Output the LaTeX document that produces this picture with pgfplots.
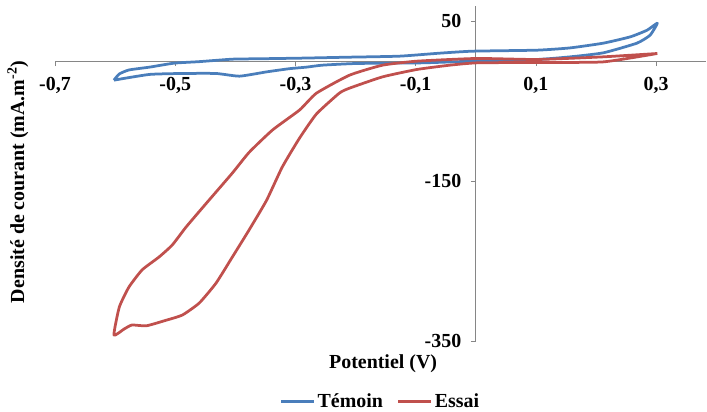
\documentclass[border=0pt]{standalone}
\usepackage{fontspec}
\setmainfont{Liberation Serif}
\usepackage{pgfplots}
\pgfplotsset{compat=1.18}
\definecolor{temoin}{RGB}{74,126,187}
\definecolor{essai}{RGB}{192,80,77}
\definecolor{axgray}{RGB}{134,134,134}
\begin{document}
\begin{tikzpicture}
\path[use as bounding box] (0,0) rectangle (707bp,412bp);
\begin{axis}[
  at={(55bp,71bp)}, anchor=south west,
  scale only axis, width=651bp, height=335bp,
  xmin=-0.7, xmax=0.383, ymin=-350, ymax=69,
  axis lines=middle,
  axis line style={-, draw=axgray, line width=0.75bp},
  tick align=outside, major tick length=5bp,
  tick style={draw=axgray, line width=0.75bp},
  xtick={-0.7,-0.5,-0.3,-0.1,0.1,0.3},
  xticklabels={{-0,7},{-0,5},{-0,3},{-0,1},{0,1},{0,3}},
  ytick={-350,-150,50},
  yticklabels={-350,-150,50},
  minor tick num=0,
  ticklabel style={font=\fontsize{20}{23}\selectfont\bfseries},
  xticklabel style={yshift=-8bp},
  yticklabel style={xshift=-6bp},
  every axis x label/.style={at={(rel axis cs:0.504,-0.068)}, anchor=center, font=\fontsize{20}{23}\selectfont\bfseries},
  every axis y label/.style={at={(rel axis cs:-0.057,0.475)}, anchor=center, rotate=90, font=\fontsize{20}{23}\selectfont\bfseries},
  xlabel={Potentiel (V)},
  ylabel={Densité de courant (mA.m\textsuperscript{-2})},
  legend style={at={(rel axis cs:0.5,-0.18)}, anchor=center, draw=none, fill=none,
    legend columns=2, font=\fontsize{20}{23}\selectfont\bfseries,
    inner sep=0bp,
    /tikz/every even column/.append style={column sep=12bp},
    nodes={inner xsep=2bp, inner ysep=1bp}},
  legend image code/.code={\draw[#1] (0bp,0bp) -- (33bp,0bp);},
]
\addplot[temoin, line width=2.75bp, line join=round, smooth, tension=0.3] coordinates {
(-0.602,-23.75) (-0.593,-16) (-0.577,-11) (-0.543,-7.5) (-0.502,-2.5)
(-0.46,-0.6) (-0.405,2.5) (-0.36,3) (-0.293,3.75) (-0.21,5) (-0.127,6.25)
(-0.06,10) (-0.005,12.5) (0.102,13.75) (0.157,16.6) (0.212,22.5)
(0.257,30.4) (0.285,38.75) (0.302,47.5)
(0.29,32.5) (0.268,22.5) (0.212,10.4) (0.157,5.4) (0.102,2.1)
(-0.005,0) (-0.088,-2.1) (-0.198,-2.9) (-0.255,-5) (-0.282,-7.5)
(-0.31,-9.4) (-0.348,-13.4) (-0.393,-18.75) (-0.432,-15.4)
(-0.488,-15.4) (-0.543,-16.6) (-0.602,-23.75)
};
\addlegendentry{Témoin}
\addplot[essai, line width=2.75bp, line join=round, smooth, tension=0.3] coordinates {
(0.302,9.6) (0.212,-0.9) (0.102,-1.6) (0.002,-2.1) (-0.043,-5)
(-0.098,-10.4) (-0.155,-19.6) (-0.21,-33.75) (-0.227,-40) (-0.265,-66)
(-0.293,-96) (-0.322,-132.5) (-0.348,-174) (-0.377,-211) (-0.405,-245)
(-0.432,-277.5) (-0.46,-302.5) (-0.488,-317.5) (-0.515,-324)
(-0.548,-331) (-0.572,-330) (-0.585,-335) (-0.602,-342.5)
(-0.593,-307.5) (-0.577,-282.5) (-0.555,-261) (-0.527,-245)
(-0.505,-230) (-0.482,-207.5) (-0.448,-177.5) (-0.405,-140)
(-0.377,-114) (-0.338,-86) (-0.293,-61) (-0.265,-40) (-0.21,-17.5)
(-0.155,-5) (-0.098,0) (0.002,3.4) (0.102,2.1) (0.212,5.4) (0.302,9.6)
};
\addlegendentry{Essai}
\end{axis}
\end{tikzpicture}
\end{document}
